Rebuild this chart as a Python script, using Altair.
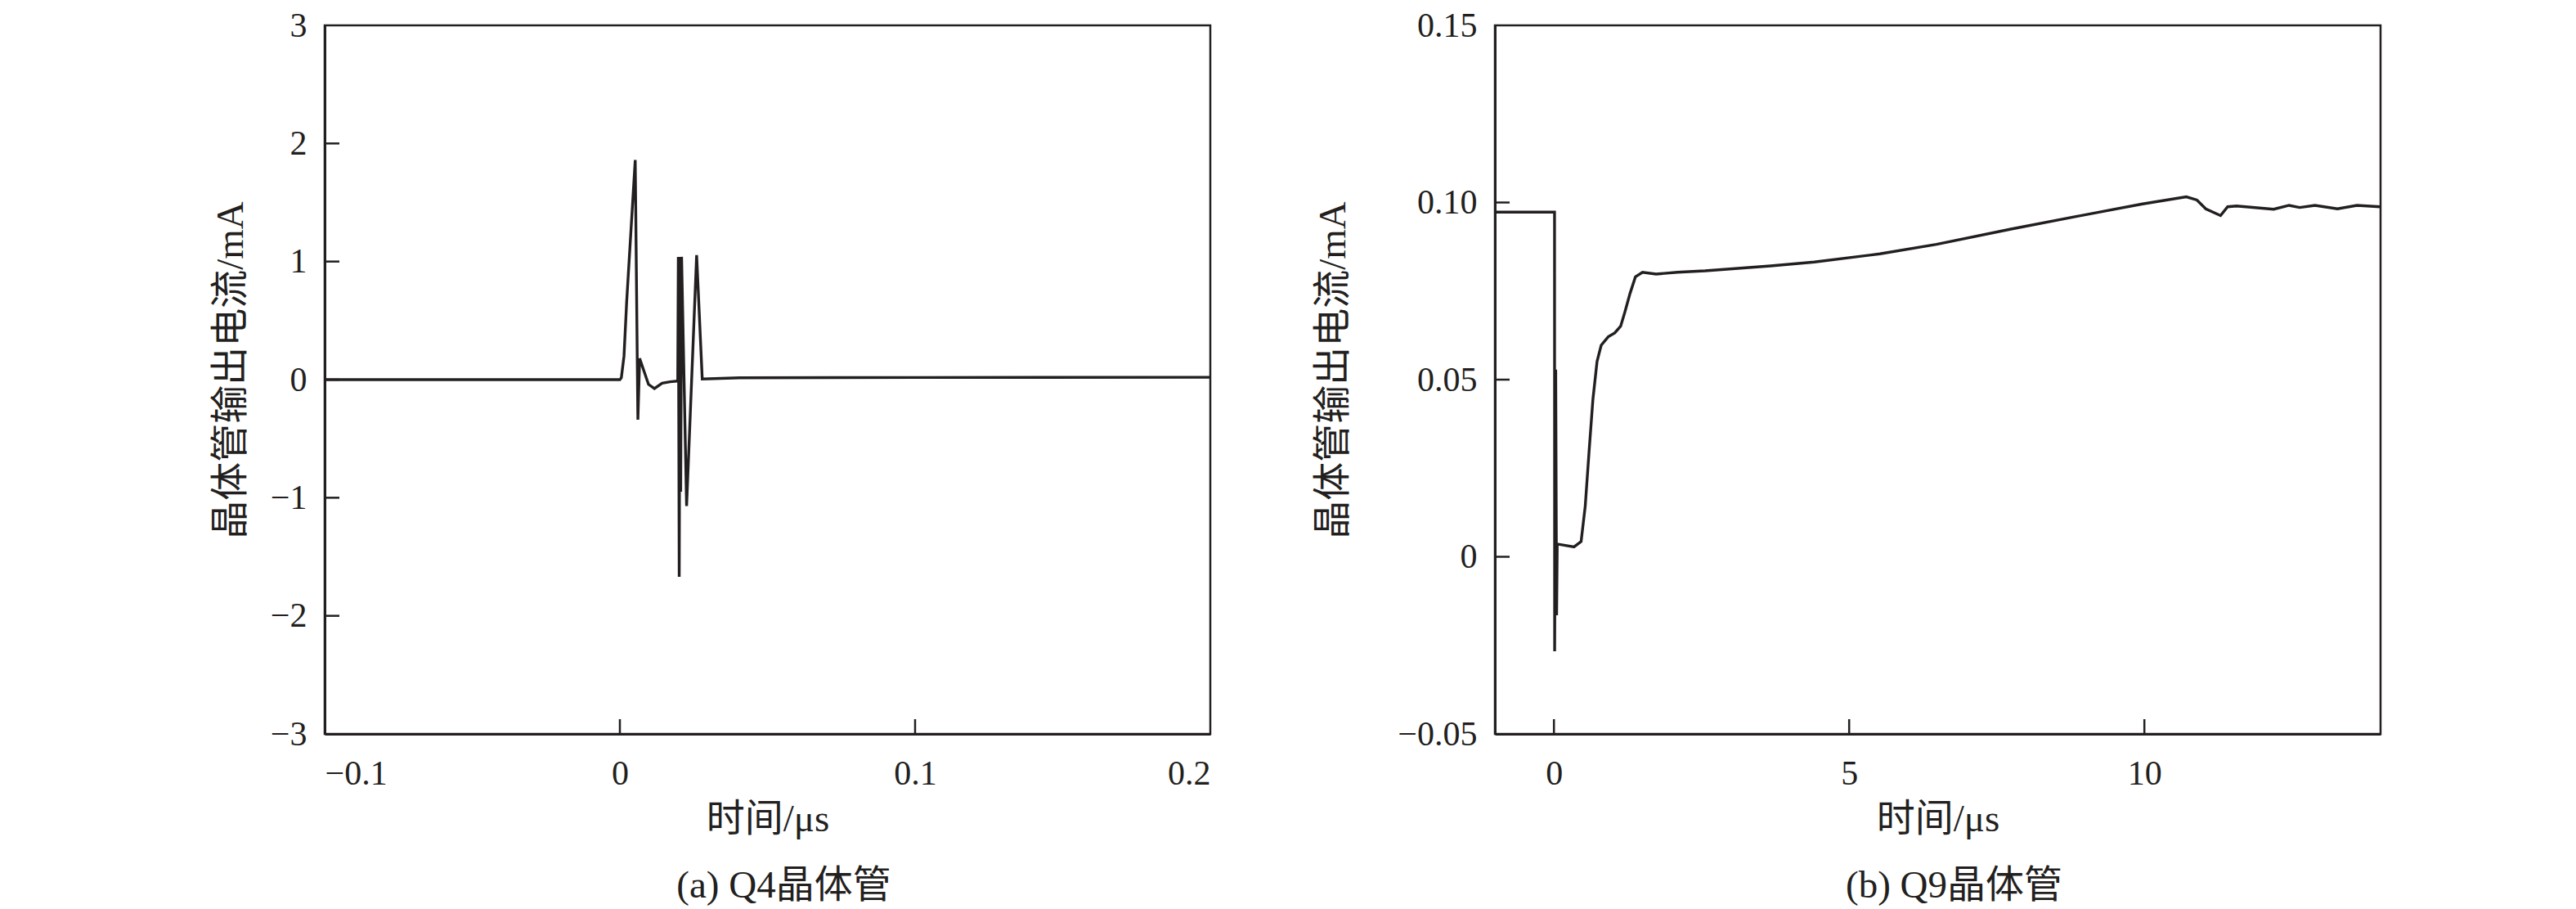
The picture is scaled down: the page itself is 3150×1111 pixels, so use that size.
import altair as alt
import pandas as pd

# (a) Q4 transistor output current (mA) vs time (us)
t_a = [-0.1, 0.0, 0.0005, 0.0014, 0.0023, 0.0037, 0.0052, 0.0061, 0.0067, 0.0083,
       0.0097, 0.0117, 0.0143, 0.0170, 0.0196, 0.0198, 0.0201, 0.0204, 0.0206, 0.0209,
       0.0226, 0.0260, 0.0279, 0.0406, 0.1, 0.2]
i_a = [0.0, 0.0, 0.016, 0.2, 0.66, 1.24, 1.86, -0.34, 0.18, 0.062,
       -0.04, -0.076, -0.03, -0.018, -0.012, 1.04, -1.67, 1.04, -0.95, 1.04,
       -1.07, 1.055, 0.005, 0.016, 0.018, 0.02]

# (b) Q9 transistor output current (mA) vs time (us)
t_b = [-1.0, 0.01, 0.012, 0.03, 0.045, 0.056, 0.34, 0.46, 0.53, 0.595, 0.66, 0.73,
       0.80, 0.92, 1.03, 1.13, 1.20, 1.29, 1.38, 1.50, 1.73, 2.09, 2.56, 3.67,
       4.41, 5.52, 6.48, 7.74, 8.86, 9.97, 10.71, 10.89, 11.04, 11.29, 11.41,
       11.56, 12.19, 12.45, 12.63, 12.89, 13.27, 13.60, 14.0]
i_b = [0.0973, 0.0973, -0.0267, 0.0528, -0.0165, 0.0036, 0.0028, 0.0043, 0.0143,
       0.0297, 0.0444, 0.0551, 0.0597, 0.0621, 0.0632, 0.0651, 0.069, 0.0744,
       0.079, 0.0803, 0.0798, 0.0803, 0.0807, 0.0821, 0.0832, 0.0855, 0.0882,
       0.0925, 0.0961, 0.0996, 0.1016, 0.1007, 0.0982, 0.0963, 0.0988, 0.099,
       0.0981, 0.0992, 0.0986, 0.0992, 0.0982, 0.0992, 0.0988]

xlabels_a = [-0.1, 0, 0.1, 0.2]
ylabels_a = [-3, -2, -1, 0, 1, 2, 3]
xlabels_b = [0, 5, 10]
ylabels_b = [-0.05, 0, 0.05, 0.10, 0.15]
xticks_a = [0, 0.1]
yticks_a = [-2, -1, 0, 1, 2]
xticks_b = [0, 5, 10]
yticks_b = [0, 0.05, 0.10]

x_title = "时间/μs"
y_title = "晶体管输出电流/mA"
cap_a = "(a) Q4晶体管"
cap_b = "(b) Q9晶体管"

W, H = 1083, 866
INK = "#231f20"
NUM_FONT = "Liberation Serif"
CJK_FONT = "Liberation Serif, Noto Sans CJK SC"
TICK = 18


def panel(t, v, xdom, ydom, xlabels, ylabels, xticks, yticks, xfmt, yfmt, ytitle_x, caption):
    xs = alt.Scale(domain=xdom, nice=False, zero=False)
    ys = alt.Scale(domain=ydom, nice=False, zero=False)
    common = dict(ticks=False, domain=True, domainWidth=3, domainColor=INK,
                  labelFont=NUM_FONT, labelFontSize=42, labelColor=INK,
                  titleFont=CJK_FONT, titleFontSize=47, titleFontWeight="normal",
                  titleColor=INK, grid=False)
    xaxis = alt.Axis(values=xlabels, format=xfmt,
                     labelExpr="datum.value == 0 ? '0' : datum.label",
                     labelPadding=28, title=x_title, titleY=104,
                     titleBaseline="middle", **common)
    yaxis = alt.Axis(values=ylabels, format=yfmt,
                     labelExpr="datum.value == 0 ? '0' : datum.label",
                     labelPadding=22, title=y_title, titleX=ytitle_x,
                     titleY=H / 2 - 12, titleBaseline="middle", **common)
    df = pd.DataFrame({"t": t, "i": v})
    line = alt.Chart(df).mark_line(color=INK, strokeWidth=3.4, clip=True).encode(
        x=alt.X("t:Q", scale=xs, axis=xaxis),
        y=alt.Y("i:Q", scale=ys, axis=yaxis),
    )
    xt = alt.Chart(pd.DataFrame({"t": xticks})).mark_rule(color=INK, strokeWidth=2.5).encode(
        x=alt.X("t:Q", scale=xs, axis=xaxis),
        y=alt.value(H), y2=alt.value(H - TICK),
    )
    yt = alt.Chart(pd.DataFrame({"i": yticks})).mark_rule(color=INK, strokeWidth=2.5).encode(
        y=alt.Y("i:Q", scale=ys, axis=yaxis),
        x=alt.value(0), x2=alt.value(TICK),
    )
    return alt.layer(line, xt, yt).properties(
        width=W, height=H,
        title=alt.TitleParams(caption, orient="bottom", anchor="middle", dx=20,
                              font=CJK_FONT, fontSize=47, fontWeight="normal",
                              color=INK, offset=36),
    )


pa = panel(t_a, i_a, [-0.1, 0.2], [-3, 3], xlabels_a, ylabels_a, xticks_a, yticks_a,
           ".1f", "d", -115, cap_a)
pb = panel(t_b, i_b, [-1, 14], [-0.05, 0.15], xlabels_b, ylabels_b, xticks_b, yticks_b,
           "d", ".2f", -198, cap_b)

chart = alt.hconcat(pa, pb, spacing=348, bounds="flush").properties(
    padding={"left": 248, "top": 0, "right": 0, "bottom": 0},
    background="white",
).configure_view(stroke=INK, strokeWidth=2.5)

chart.save("out.html", embed_options={"renderer": "svg", "actions": False})
